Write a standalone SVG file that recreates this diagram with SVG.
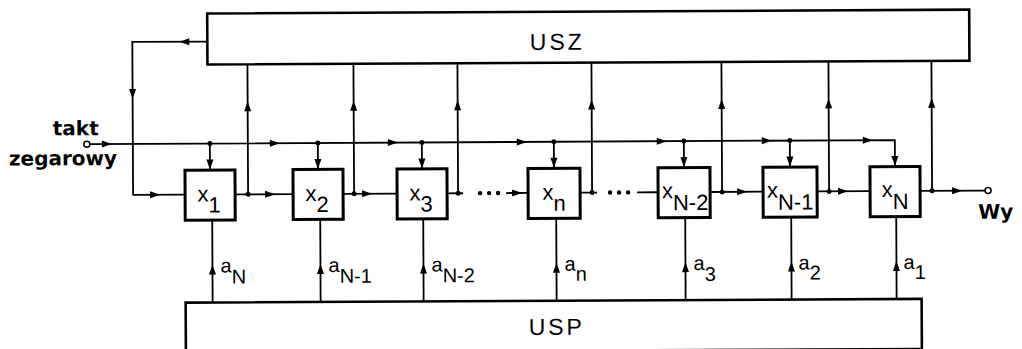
<svg xmlns="http://www.w3.org/2000/svg" xmlns:xlink="http://www.w3.org/1999/xlink" width="1022" height="349" viewBox="0 0 1022 349">
<style>
.blk{fill:#fff;stroke:#000;stroke-width:2.6}
.reg{fill:#fff;stroke:#000;stroke-width:3}
.ln{fill:none;stroke:#000;stroke-width:1.8}
.dot{fill:#000}
.lb{font-family:"DejaVu Sans",sans-serif;font-weight:bold;font-size:20px;fill:#000}
.bx{font-family:"Liberation Sans",Arial,sans-serif;font-size:22px;fill:#000}
.al{font-family:"Liberation Sans",Arial,sans-serif;font-size:20px;fill:#000}
.big{font-family:"Liberation Sans",Arial,sans-serif;font-size:23px;letter-spacing:3px;fill:#000}
</style>
<defs>
<path id="ah" d="M0 0 L-10 -3.5 L-10 3.5 Z" fill="#000"/>
</defs>
<rect width="1022" height="349" fill="#fff"/>
<g transform="rotate(-0.29 511 175)">
<g id="connectors">
<path class="ln" d="M208 40 H133 V193 H185"/>
<path class="ln" d="M90 142 H895 V168.5"/>
<path class="ln" d="M210 142 V168.5 M318 142 V168.5 M422 142 V168.5 M554 142 V168.5 M684 142 V168.5 M790 142 V168.5"/>
<path class="ln" d="M235 193 H293 M343 193 H397 M447 193 H463 M506 193 H528 M580 193 H597 M637 193 H658 M710 193 H763 M817 193 H870 M920 193 H985"/>
<path class="ln" d="M248 193 V63 M354 193 V63 M458 193 V63 M592 193 V63 M722 193 V63 M829 193 V63 M932 193 V63"/>
<path class="ln" d="M212 301 V218.5 M320 301 V218.5 M423 301 V218.5 M556 301 V218.5 M685 301 V218.5 M791 301 V218.5 M896 301 V218.5"/>
<circle cx="87" cy="142" r="3" fill="#fff" stroke="#000" stroke-width="1.5"/>
<circle cx="988" cy="193" r="3" fill="#fff" stroke="#000" stroke-width="1.5"/>
<g class="dot">
<circle cx="210" cy="142" r="2.5"/><circle cx="318" cy="142" r="2.5"/><circle cx="422" cy="142" r="2.5"/><circle cx="554" cy="142" r="2.5"/><circle cx="684" cy="142" r="2.5"/><circle cx="790" cy="142" r="2.5"/>
<circle cx="248" cy="193" r="2.5"/><circle cx="354" cy="193" r="2.5"/><circle cx="458" cy="193" r="2.5"/><circle cx="592" cy="193" r="2.5"/><circle cx="722" cy="193" r="2.5"/><circle cx="829" cy="193" r="2.5"/><circle cx="932" cy="193" r="2.5"/>
<circle cx="480" cy="193" r="2.2"/><circle cx="489" cy="193" r="2.2"/><circle cx="498" cy="193" r="2.2"/>
<circle cx="610" cy="193" r="2.2"/><circle cx="619" cy="193" r="2.2"/><circle cx="628" cy="193" r="2.2"/>
</g>
<use xlink:href="#ah" x="112" y="142"/><use xlink:href="#ah" x="280" y="142"/><use xlink:href="#ah" x="398" y="142"/><use xlink:href="#ah" x="527" y="142"/><use xlink:href="#ah" x="667" y="142"/><use xlink:href="#ah" x="772" y="142"/><use xlink:href="#ah" x="873" y="142"/>
<use xlink:href="#ah" x="160" y="193"/><use xlink:href="#ah" x="275" y="193"/><use xlink:href="#ah" x="372" y="193"/><use xlink:href="#ah" x="522" y="193"/><use xlink:href="#ah" x="747" y="193"/><use xlink:href="#ah" x="848" y="193"/><use xlink:href="#ah" x="962" y="193"/>
<use xlink:href="#ah" transform="translate(180 40) rotate(180)"/>
<use xlink:href="#ah" transform="translate(133 97) rotate(90)"/>
<use xlink:href="#ah" transform="translate(210 168) rotate(90)"/><use xlink:href="#ah" transform="translate(318 168) rotate(90)"/><use xlink:href="#ah" transform="translate(422 168) rotate(90)"/><use xlink:href="#ah" transform="translate(554 168) rotate(90)"/><use xlink:href="#ah" transform="translate(684 168) rotate(90)"/><use xlink:href="#ah" transform="translate(790 168) rotate(90)"/><use xlink:href="#ah" transform="translate(895 168) rotate(90)"/>
<use xlink:href="#ah" transform="translate(248 100) rotate(-90)"/><use xlink:href="#ah" transform="translate(354 100) rotate(-90)"/><use xlink:href="#ah" transform="translate(458 100) rotate(-90)"/><use xlink:href="#ah" transform="translate(592 100) rotate(-90)"/><use xlink:href="#ah" transform="translate(722 100) rotate(-90)"/><use xlink:href="#ah" transform="translate(829 100) rotate(-90)"/><use xlink:href="#ah" transform="translate(932 100) rotate(-90)"/>
<use xlink:href="#ah" transform="translate(212 263) rotate(-90)"/><use xlink:href="#ah" transform="translate(320 263) rotate(-90)"/><use xlink:href="#ah" transform="translate(423 263) rotate(-90)"/><use xlink:href="#ah" transform="translate(556 263) rotate(-90)"/><use xlink:href="#ah" transform="translate(685 263) rotate(-90)"/><use xlink:href="#ah" transform="translate(791 263) rotate(-90)"/><use xlink:href="#ah" transform="translate(896 263) rotate(-90)"/>
</g>
<g id="USZ"><rect class="blk" x="208" y="12" width="762" height="51"/><text class="big" x="558" y="50" text-anchor="middle">USZ</text></g>
<g id="USP"><rect class="blk" x="185" y="301" width="736" height="50"/><text class="big" x="556" y="335" text-anchor="middle">USP</text></g>
<g id="x1"><rect class="reg" x="185" y="168.5" width="50" height="50"/><text class="bx" x="209" y="200" text-anchor="middle">x<tspan dy="11">1</tspan></text></g>
<g id="x2"><rect class="reg" x="293" y="168.5" width="50" height="50"/><text class="bx" x="317" y="200" text-anchor="middle">x<tspan dy="11">2</tspan></text></g>
<g id="x3"><rect class="reg" x="397" y="168.5" width="50" height="50"/><text class="bx" x="421" y="200" text-anchor="middle">x<tspan dy="11">3</tspan></text></g>
<g id="xn"><rect class="reg" x="528" y="168.5" width="52" height="50"/><text class="bx" x="554" y="200" text-anchor="middle">x<tspan dy="11">n</tspan></text></g>
<g id="xN-2"><rect class="reg" x="658" y="168.5" width="52" height="50"/><text class="bx" x="685" y="199" text-anchor="middle">x<tspan dy="12">N-2</tspan></text></g>
<g id="xN-1"><rect class="reg" x="763" y="168.5" width="54" height="50"/><text class="bx" x="790" y="199" text-anchor="middle">x<tspan dy="12">N-1</tspan></text></g>
<g id="xN"><rect class="reg" x="870" y="168.5" width="50" height="50"/><text class="bx" x="895" y="199" text-anchor="middle">x<tspan dy="12">N</tspan></text></g>
<g id="coefficients">
<text class="al" x="220" y="271">a<tspan dy="11">N</tspan></text>
<text class="al" x="328" y="271">a<tspan dy="11">N-1</tspan></text>
<text class="al" x="431" y="271">a<tspan dy="11">N-2</tspan></text>
<text class="al" x="564" y="271">a<tspan dy="10">n</tspan></text>
<text class="al" x="693" y="271">a<tspan dy="11">3</tspan></text>
<text class="al" x="798" y="271">a<tspan dy="10">2</tspan></text>
<text class="al" x="903" y="271">a<tspan dy="10">1</tspan></text>
</g>
<g id="input"><text class="lb" x="53" y="133">takt</text><text class="lb" x="9" y="163">zegarowy</text></g>
<g id="output"><text class="lb" x="978" y="221">Wy</text></g>
</g>
</svg>
